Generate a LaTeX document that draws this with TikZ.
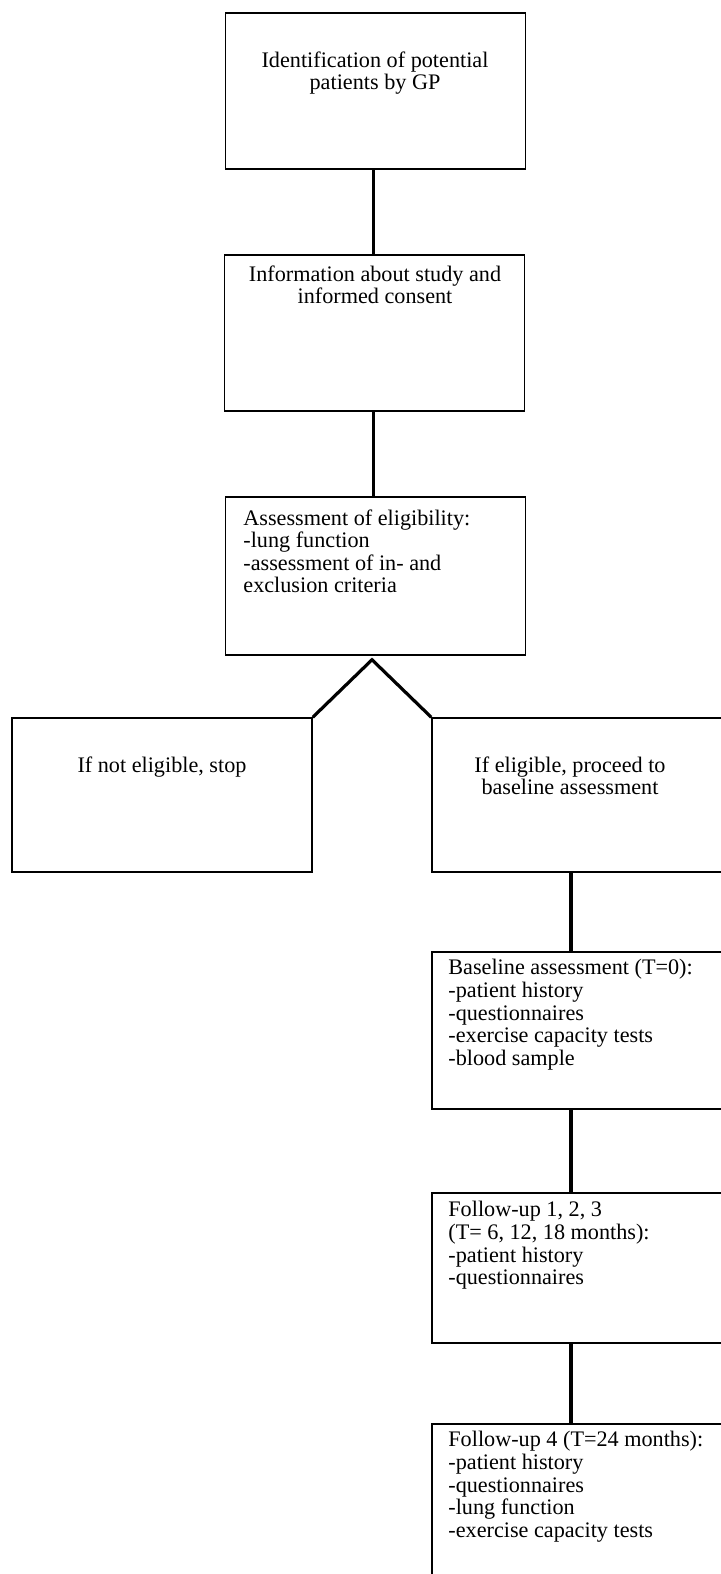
\documentclass[tikz,border=0pt]{standalone}
\usepackage{fontspec}
\setmainfont{Liberation Serif}
\usetikzlibrary{calc}
\usetikzlibrary{positioning}

\tikzset{
 box/.style={draw, line width=.75pt, inner sep=0, minimum width=150pt},
 conn/.style={line width=1.6pt},
 txt/.style={inner sep=0, font=\fontsize{11.1}{11.3}\selectfont}
}

\begin{document}
\begin{tikzpicture} [x=.5pt, y=-.5pt]
\clip (0,0) rectangle (721,1574);
\node[box, minimum height=78pt] (ident) at (375.5,91) {};
\node[box, minimum height=78pt] (info) at (374.5,333) {};
\node[box, minimum height=79pt] (elig) at (375.5,576) {};
\node[box, minimum height=77pt] (stop) at (162,795) {};
\node[box, minimum height=77pt] (proceed) at (582,795) {};
\node[box, minimum height=78.5pt] (base) at (582,1030.5) {};
\node[box, minimum height=75pt] (follow) at (582,1268) {};
\node[box, minimum height=78pt] (follow4) at (582,1502) {};

\node[txt, anchor=north, align=center] (identtxt) at (375,51) {Identification of potential\\patients by GP};
\node[txt, anchor=north, align=center] (infotxt) at (375,265) {Information about study and\\informed consent};
\node[txt, anchor=north west, align=left] (eligtxt) at (243,509) {Assessment of eligibility:\\-lung function\\-assessment of in- and\\exclusion criteria};
\node[txt, anchor=north, align=center] (stoptxt) at (162,756) {If not eligible, stop};
\node[txt, anchor=north, align=center] (proceedtxt) at (570,756) {If eligible, proceed to\\baseline assessment};
\node[txt, anchor=north west, align=left] (basetxt) at (448,959) {Baseline assessment (T=0):\\-patient history\\-questionnaires\\-exercise capacity tests\\-blood sample};
\node[txt, anchor=north west, align=left] (followtxt) at (448,1201) {Follow-up 1, 2, 3\\(T= 6, 12, 18 months):\\-patient history\\-questionnaires};
\node[txt, anchor=north west, align=left] (follow4txt) at (448,1431) {Follow-up 4 (T=24 months):\\-patient history\\-questionnaires\\-lung function\\-exercise capacity tests};

\coordinate (apex) at ($(elig.south)+(-3.5,4)$);
\draw[conn] ([xshift=-1pt]ident.south) -- ([xshift=-.5pt]info.north);
\draw[conn] ([xshift=-.5pt]info.south) -- ([xshift=-1pt]elig.north);
\draw[conn, line join=miter] (stop.north east) -- (apex) -- (proceed.north west);
\foreach \a/\b in {proceed/base, base/follow, follow/follow4}
 \draw[conn] ([xshift=-5.5pt]\a.south) -- ([xshift=-5.5pt]\b.north);
\end{tikzpicture}
\end{document}
